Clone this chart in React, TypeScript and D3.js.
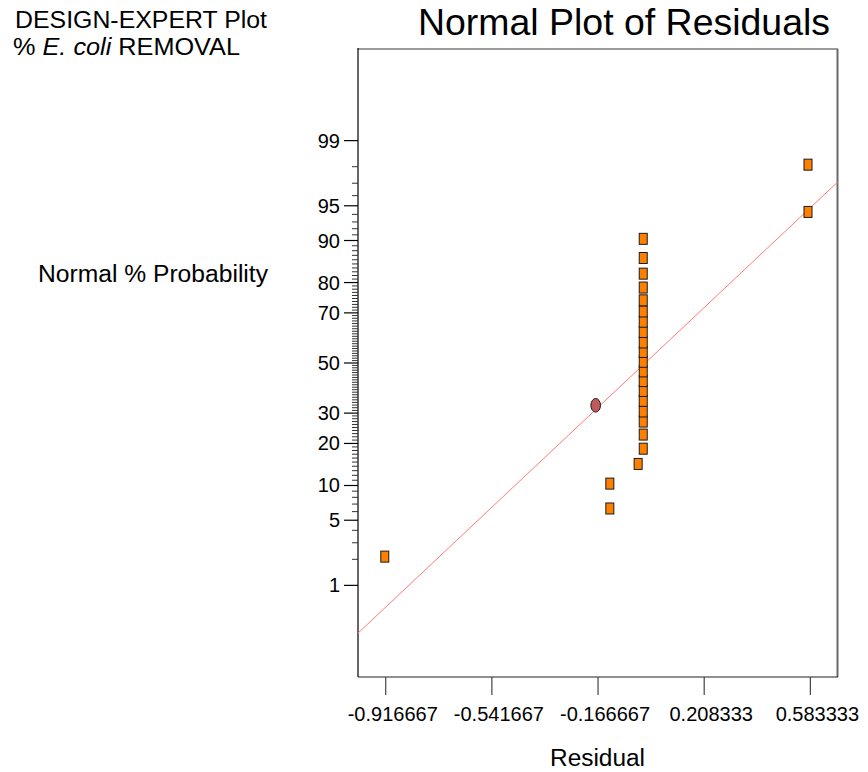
import React from "react";
import * as d3 from "d3";

// ---------- data ----------
const xTickValues = [-0.916667, -0.541667, -0.166667, 0.208333, 0.583333];
const xTickLabels = ["-0.916667", "-0.541667", "-0.166667", "0.208333", "0.583333"];
const yMajorTicks = [1, 5, 10, 20, 30, 50, 70, 80, 90, 95, 99];

// residual (x) and normal % probability (y) of each run
const residuals = [
  -0.92, -0.125, -0.125, -0.025,
  -0.007, -0.007, -0.007, -0.007, -0.007, -0.007, -0.007, -0.007, -0.007, -0.007,
  -0.007, -0.007, -0.007, -0.007, -0.007, -0.007, -0.007, -0.007, -0.007,
  0.575, 0.575,
];
const probabilities = [
  2.14, 6.4, 10.35, 14.55,
  18.5, 22.7, 27.0, 30.6, 34.6, 38.5, 42.5, 46.5, 50.5, 54.6,
  58.5, 62.7, 66.7, 70.5, 74.4, 78.5, 82.5, 86.4, 90.3,
  94.3, 98.1,
];
const highlightResiduals = [-0.175];
const highlightProbabilities = [32.9];

// reference line: residual ~ N(mean, sd)
const lineMean = 0;
const lineSd = 0.359;

// ---------- helpers ----------
function probit(p: number): number {
  const a = [-3.969683028665376e1, 2.209460984245205e2, -2.759285104469687e2, 1.38357751867269e2, -3.066479806614716e1, 2.506628277459239];
  const b = [-5.447609879822406e1, 1.615858368580409e2, -1.556989798598866e2, 6.680131188771972e1, -1.328068155288572e1];
  const c = [-7.784894002430293e-3, -3.223964580411365e-1, -2.400758277161838, -2.549732539343734, 4.374664141464968, 2.938163982698783];
  const d = [7.784695709041462e-3, 3.224671290700398e-1, 2.445134137142996, 3.754408661907416];
  const pl = 0.02425;
  const ph = 1 - pl;
  if (p < pl) {
    const q = Math.sqrt(-2 * Math.log(p));
    return (((((c[0] * q + c[1]) * q + c[2]) * q + c[3]) * q + c[4]) * q + c[5]) /
      ((((d[0] * q + d[1]) * q + d[2]) * q + d[3]) * q + 1);
  }
  if (p <= ph) {
    const q = p - 0.5;
    const r = q * q;
    return ((((((a[0] * r + a[1]) * r + a[2]) * r + a[3]) * r + a[4]) * r + a[5]) * q) /
      (((((b[0] * r + b[1]) * r + b[2]) * r + b[3]) * r + b[4]) * r + 1);
  }
  const q = Math.sqrt(-2 * Math.log(1 - p));
  return -(((((c[0] * q + c[1]) * q + c[2]) * q + c[3]) * q + c[4]) * q + c[5]) /
    ((((d[0] * q + d[1]) * q + d[2]) * q + d[3]) * q + 1);
}

const FONT = "'Liberation Sans', Arial, Helvetica, sans-serif";

export default function App() {
  const W = 868;
  const H = 772;
  const left = 358;
  const right = 838;
  const top = 49;
  const bottom = 677;

  const x = d3.scaleLinear().domain([-1.0146, 0.681]).range([left, right]);
  const z = d3.scaleLinear().domain([-3.285, 3.285]).range([bottom, top]);
  const yP = (p: number) => z(probit(p / 100));

  const minorTicks = d3.range(2, 99).filter((v) => !yMajorTicks.includes(v));

  const [x0, x1] = x.domain();
  const lineData: [number, number][] = [
    [x0, (x0 - lineMean) / lineSd],
    [x1, (x1 - lineMean) / lineSd],
  ];
  const linePath = d3
    .line<[number, number]>()
    .x((d) => x(d[0]))
    .y((d) => z(d[1]))(lineData) as string;

  const sqW = 8;
  const sqH = 11;

  return (
    <svg
      width={W}
      height={H}
      style={{ position: "absolute", left: 0, top: 0, background: "#fff" }}
      fontFamily={FONT}
    >
      <defs>
        <clipPath id="plotClip">
          <rect x={left} y={top} width={right - left} height={bottom - top} />
        </clipPath>
      </defs>

      {/* header texts */}
      <text x={15} y={28} fontSize={23} fill="#000" textLength={252} lengthAdjust="spacingAndGlyphs">
        DESIGN-EXPERT Plot
      </text>
      <text x={13} y={55} fontSize={23} fill="#000" textLength={227} lengthAdjust="spacingAndGlyphs">
        %{" "}<tspan fontStyle="italic">E. coli</tspan> REMOVAL
      </text>
      <text x={418} y={35} fontSize={36} fill="#000" textLength={412} lengthAdjust="spacingAndGlyphs">
        Normal Plot of Residuals
      </text>

      {/* axis titles */}
      <text x={38} y={282} fontSize={23} fill="#000" textLength={230} lengthAdjust="spacingAndGlyphs">
        Normal % Probability
      </text>
      <text x={550} y={766} fontSize={23} fill="#000" textLength={95} lengthAdjust="spacingAndGlyphs">
        Residual
      </text>

      {/* plot frame */}
      <line x1={left} y1={top} x2={right} y2={top} stroke="#7a7a7a" strokeWidth={1.5} />
      <line x1={right - 0.5} y1={top} x2={right - 0.5} y2={bottom} stroke="#6a6a6a" strokeWidth={2} />
      <line x1={left} y1={top - 1} x2={left} y2={bottom} stroke="#000" strokeWidth={1.2} />
      <line x1={left} y1={bottom} x2={right} y2={bottom} stroke="#222" strokeWidth={1.2} />

      {/* y minor ticks */}
      {minorTicks.map((v) => (
        <line key={"m" + v} x1={352} x2={left} y1={yP(v)} y2={yP(v)} stroke="#333" strokeWidth={1} />
      ))}
      {/* y major ticks */}
      {yMajorTicks.map((v) => (
        <g key={"M" + v}>
          <line x1={344} x2={left} y1={yP(v)} y2={yP(v)} stroke="#000" strokeWidth={1.2} />
          <text x={340} y={yP(v) + 7} fontSize={20} textAnchor="end" fill="#000">
            {v}
          </text>
        </g>
      ))}

      {/* x ticks */}
      {xTickValues.map((v, i) => (
        <g key={"x" + i}>
          <line x1={x(v)} x2={x(v)} y1={bottom} y2={695} stroke="#444" strokeWidth={1.2} />
          <text x={x(v) + 7} y={721} fontSize={20} textAnchor="middle" fill="#000">
            {xTickLabels[i]}
          </text>
        </g>
      ))}

      {/* reference line */}
      <path d={linePath} stroke="#ff7a7a" strokeWidth={1} fill="none" clipPath="url(#plotClip)" />

      {/* points */}
      {residuals.map((r, i) => (
        <rect
          key={"p" + i}
          x={x(r) - sqW / 2}
          y={yP(probabilities[i]) - sqH / 2}
          width={sqW}
          height={sqH}
          fill="#ff8000"
          stroke="#1a1a1a"
          strokeWidth={1}
        />
      ))}
      {highlightResiduals.map((r, i) => (
        <ellipse
          key={"h" + i}
          cx={x(r)}
          cy={yP(highlightProbabilities[i])}
          rx={4.8}
          ry={6.8}
          fill="#c05a5c"
          stroke="#1a1a1a"
          strokeWidth={1}
        />
      ))}
    </svg>
  );
}
